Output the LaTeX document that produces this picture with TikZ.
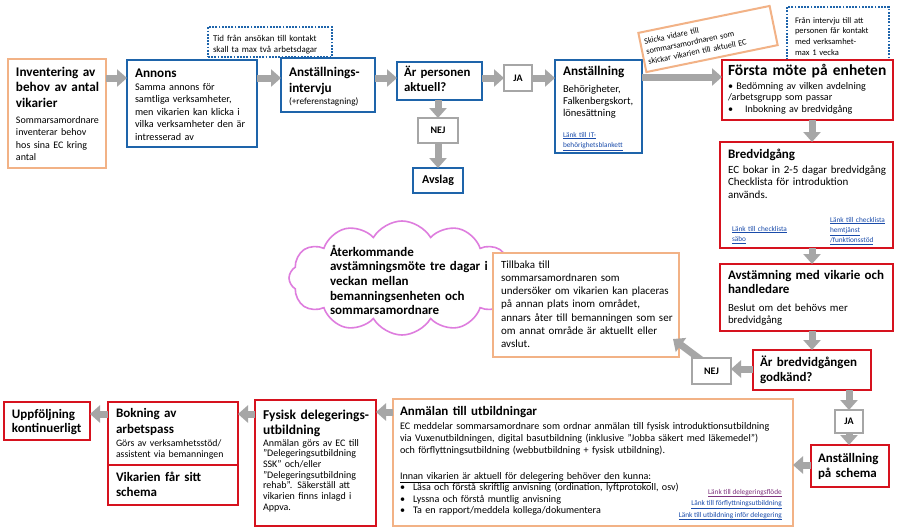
\documentclass[tikz,border=0pt]{standalone}
\usepackage{fontspec}
\setmainfont{Carlito}
\usetikzlibrary{arrows.meta,fit,shapes.symbols,calc}
\definecolor{obord}{RGB}{242,178,134}
\definecolor{bbord}{RGB}{30,100,170}
\definecolor{rbord}{RGB}{214,18,30}
\definecolor{garr}{RGB}{166,166,166}
\definecolor{lnk}{RGB}{25,75,170}
\definecolor{lnkv}{RGB}{125,50,125}
\definecolor{cloudc}{RGB}{222,125,222}
\tikzset{
  bx/.style={draw, fill=white, line width=2.6pt, inner sep=0pt, outer sep=0pt},
  obox/.style={bx, draw=obord},
  bbox/.style={bx, draw=bbord},
  rbox/.style={bx, draw=rbord},
  gbox/.style={bx, draw=garr, line width=2.4pt},
  dbox/.style={draw=bbord, line width=2pt, dash pattern=on 1.8pt off 1.4pt, fill=white, inner sep=0pt, outer sep=0pt},
  ga/.style={draw=garr, line width=7pt, -{Triangle[width=17pt,length=10pt]}},
  tx/.style={anchor=base west, inner sep=0pt, outer sep=0pt, align=left, text width=#1},
  lk/.style={tx=#1, text=lnk, font=\fontsize{7.3}{10.4}\selectfont},
  lkr/.style={anchor=base east, inner sep=0pt, align=right, text=#1, font=\fontsize{7.3}{11.5}\selectfont},
}
\begin{document}
\begin{tikzpicture}[x=1pt,y=-1pt]
\useasboundingbox (0,0) rectangle (900,528);
\fill[white] (0,0) rectangle (900,528);

% cloud
\node[cloud, cloud puffs=12, cloud puff arc=120, aspect=2, draw=cloudc, line width=1.6pt, fill=white, minimum width=226pt, minimum height=114pt, inner sep=0pt] (cld) at (402,278) {};
\node[tx=170pt, font=\fontsize{13}{14.7}\selectfont\bfseries] (cldt) at (330,256) {Återkommande\\avstämningsmöte tre dagar i\\veckan mellan\\bemanningsenheten och\\sommarsamordnare};

% top row
\node[obox, fit={(8,59) (106,168)}] (inv) {};
\node[tx=95pt, font=\fontsize{13.2}{15.5}\selectfont\bfseries] (invt) at (16,76) {Inventering av\\behov av antal\\vikarier};
\node[tx=95pt, font=\fontsize{10}{12.6}\selectfont] (invb) at (16,123) {Sommarsamordnare\\inventerar behov\\hos sina EC kring\\antal};

\node[bbox, fit={(127,60) (257,147)}] (ann) {};
\node[tx=120pt, font=\fontsize{13.2}{15}\selectfont\bfseries] (annt) at (135,77) {Annons};
\node[tx=125pt, font=\fontsize{10.2}{12.6}\selectfont] (annb) at (135,90) {Samma annons för\\samtliga verksamheter,\\men vikarien kan klicka i\\vilka verksamheter den är\\intresserad av};

\node[dbox, fit={(208,27) (332,57)}] (dot1) {};
\node[tx=125pt, font=\fontsize{8.9}{11}\selectfont] (dot1t) at (213,41) {Tid från ansökan till kontakt\\skall ta max två arbetsdagar};

\node[bbox, fit={(281,58) (375,112)}] (intv) {};
\node[tx=95pt, font=\fontsize{13.2}{16}\selectfont\bfseries] (intvt) at (289,76) {Anställnings-\\intervju};
\node[tx=95pt, font=\fontsize{9.3}{11}\selectfont] (intvb) at (289,104) {(+referenstagning)};

\node[bbox, fit={(397,62) (482,100)}] (arp) {};
\node[tx=85pt, font=\fontsize{12.8}{15}\selectfont\bfseries] (arpt) at (404,76) {Är personen\\aktuell?};

\node[gbox, fit={(418,118) (458,143)}] (nej1) {};
\node[font=\fontsize{10}{12}\selectfont\bfseries, inner sep=0pt] (nej1t) at (nej1) {NEJ};
\node[bbox, fit={(413,168) (463,193)}] (avs) {};
\node[font=\fontsize{12}{14}\selectfont\bfseries, inner sep=0pt] (avst) at (avs) {Avslag};

\node[gbox, fit={(504,65) (532,91)}] (ja1) {};
\node[font=\fontsize{10}{12}\selectfont\bfseries, inner sep=0pt] (ja1t) at (ja1) {JA};

\node[bbox, fit={(555,60) (642,153)}] (anst) {};
\node[tx=85pt, font=\fontsize{13.2}{15}\selectfont\bfseries] (anstt) at (563,75) {Anställning};
\node[tx=85pt, font=\fontsize{10.5}{12.3}\selectfont] (anstb) at (563,92) {Behörigheter,\\Falkenbergskort,\\lönesättning};
\node[lk=85pt] (anstl) at (563,137) {\underline{Länk till IT-}\\\underline{behörighetsblankett}};

\node[draw=obord, line width=2pt, fill=white, rotate=11.6, minimum width=134pt, minimum height=40pt, text width=126pt, inner xsep=4pt, inner ysep=2pt, align=left, font=\fontsize{8.3}{10.3}\selectfont] (skk) at (708,39) {Skicka vidare till\\sommarsamordnaren som\\skickar vikarien till aktuell EC};

\node[dbox, fit={(787,7) (889,62)}] (dot2) {};
\node[tx=95pt, font=\fontsize{8.5}{10.8}\selectfont] (dot2t) at (795,23) {Från intervju till att\\personen får kontakt\\med verksamhet-\\max 1 vecka};

% right column
\node[rbox, fit={(722,60) (893,120)}] (forsta) {};
\node[tx=165pt, font=\fontsize{15.5}{16}\selectfont\bfseries] (forstat) at (728,75) {Första möte på enheten};
\node[tx=165pt, font=\fontsize{10.1}{11.5}\selectfont] (forstab) at (728,89) {• Bedömning av vilken avdelning\\/arbetsgrupp som passar\\•\hspace{12pt}Inbokning av bredvidgång};

\node[rbox, fit={(720,142) (893,248)}] (bred) {};
\node[tx=165pt, font=\fontsize{13}{15}\selectfont\bfseries] (bredt) at (728,158) {Bredvidgång};
\node[tx=165pt, font=\fontsize{11}{12.5}\selectfont] (bredb) at (728,173) {EC bokar in 2-5 dagar bredvidgång\\Checklista för introduktion\\används.};
\node[lk=80pt] (bredl1) at (732,231) {\underline{Länk till checklista}\\\underline{säbo}};
\node[lk=62pt] (bredl2) at (830,222) {\underline{Länk till checklista}\\\underline{hemtjänst}\\\underline{/funktionsstöd}};

\node[rbox, fit={(720,264) (893,331)}] (avst2) {};
\node[tx=165pt, font=\fontsize{13}{14.8}\selectfont\bfseries] (avst2t) at (728,279) {Avstämning med vikarie och\\handledare};
\node[tx=165pt, font=\fontsize{10.8}{12}\selectfont] (avst2b) at (728,311) {Beslut om det behövs mer\\bredvidgång};

\node[rbox, fit={(753,350) (871,390)}] (arb) {};
\node[tx=115pt, font=\fontsize{13}{15}\selectfont\bfseries] (arbt) at (760,366) {Är bredvidgången\\godkänd?};

% Tillbaka box and NEJ
\node[obox, fit={(493,253) (679,357)}] (till) {};
\node[tx=180pt, font=\fontsize{11}{13.3}\selectfont] (tillt) at (501,268) {Tillbaka till\\sommarsamordnaren som\\undersöker om vikarien kan placeras\\på annan plats inom området,\\annars åter till bemanningen som ser\\om annat område är aktuellt eller\\avslut.};

\coordinate (nejtail) at (712,368);
\draw[ga] (nejtail) -- ($(till.south east)+(-6,-18)$);
\node[gbox, fit={(692,358) (731,384)}] (nej2) {};
\node[font=\fontsize{10}{12}\selectfont\bfseries, inner sep=0pt] (nej2t) at (nej2) {NEJ};

\node[gbox, fit={(835,410) (863,433)}] (ja2) {};
\node[font=\fontsize{10}{12}\selectfont\bfseries, inner sep=0pt] (ja2t) at (ja2) {JA};

\node[rbox, fit={(811,445) (889,487)}] (aps) {};
\node[tx=75pt, font=\fontsize{13}{15}\selectfont\bfseries] (apst) at (818,462) {Anställning\\på schema};

% bottom row
\node[obox, fit={(393,399) (793,526)}] (anm) {};
\node[tx=300pt, font=\fontsize{13}{15}\selectfont\bfseries] (anmt) at (400,415) {Anmälan till utbildningar};
\node[tx=390pt, font=\fontsize{10.1}{12}\selectfont] (anmb) at (400,429) {EC meddelar sommarsamordnare som ordnar anmälan till fysisk introduktionsutbildning\\via Vuxenutbildningen, digital basutbildning (inklusive ”Jobba säkert med läkemedel”)\\och förflyttningsutbildning (webbutbildning + fysisk utbildning).};
\node[tx=300pt, font=\fontsize{10.1}{11.6}\selectfont] (anmc) at (400,479) {\underline{Innan vikarien är aktuell för delegering behöver den kunna:}\\\makebox[13pt][l]{•}Läsa och förstå skriftlig anvisning (ordination, lyftprotokoll, osv)\\\makebox[13pt][l]{•}Lyssna och förstå muntlig anvisning\\\makebox[13pt][l]{•}Ta en rapport/meddela kollega/dokumentera};
\node[lkr=lnkv] (anml1) at (782,494) {\underline{Länk till delegeringsflöde}};
\node[lkr=lnk] (anml2) at (782,505.5) {\underline{Länk till förflyttningsutbildning}};
\node[lkr=lnk] (anml3) at (782,517) {\underline{Länk till utbildning inför delegering}};

\node[rbox, fit={(255,400) (376,526)}] (fys) {};
\node[tx=118pt, font=\fontsize{13.5}{15}\selectfont\bfseries] (fyst) at (263,419) {Fysisk delegerings-\\utbildning};
\node[tx=118pt, font=\fontsize{10}{10.7}\selectfont] (fysb) at (263,446) {Anmälan görs av EC till\\”Delegeringsutbildning\\SSK” och/eller\\”Delegeringsutbildning\\rehab”. Säkerställ att\\vikarien finns inlagd i\\Appva.};

\node[rbox, fit={(108,402) (238,465)}] (bok) {};
\node[tx=125pt, font=\fontsize{13}{16}\selectfont\bfseries] (bokt) at (116,417) {Bokning av\\arbetspass};
\node[tx=125pt, font=\fontsize{9.8}{11}\selectfont] (bokb) at (116,446) {Görs av verksamhetsstöd/\\assistent via bemanningen};
\node[rbox, fit={(108,465) (238,505)}] (vik) {};
\node[tx=125pt, font=\fontsize{13}{15}\selectfont\bfseries] (vikt) at (116,481) {Vikarien får sitt\\schema};

\node[rbox, fit={(4,402) (90,440)}] (upp) {};
\node[tx=85pt, font=\fontsize{13}{14.5}\selectfont\bfseries] (uppt) at (12,418) {Uppföljning\\kontinuerligt};

% arrows
\draw[ga] (inv.east |- 0,78) -- (ann.west |- 0,78);
\draw[ga] (ann.east |- 0,78) -- (intv.west |- 0,78);
\draw[ga] (intv.east |- 0,78) -- (arp.west |- 0,78);
\draw[ga] (arp.east |- 0,78) -- (ja1.west |- 0,78);
\draw[ga] (ja1.east |- 0,78) -- (anst.west |- 0,78);
\draw[ga] (anst.east |- 0,77) -- (forsta.west |- 0,77);
\draw[ga] (nej1.north |- arp.south) -- (nej1.north);
\draw[ga] (nej1.south) -- (avs.north);
\draw[ga] (forsta.south -| 812,0) -- (bred.north -| 812,0);
\draw[ga] (bred.south -| 812,0) -- (avst2.north -| 812,0);
\draw[ga] (avst2.south -| 812,0) -- (arb.north -| 812,0);
\draw[ga] (arb.west |- 0,369) -- (nej2.east |- 0,369);
\draw[ga] (arb.south -| 849,0) -- (ja2.north -| 849,0);
\draw[ga] (ja2.south -| 849,0) -- (aps.north -| 849,0);
\draw[ga] (aps.west |- 0,465) -- (anm.east |- 0,465);
\draw[ga] (anm.west |- 0,412) -- (fys.east |- 0,412);
\draw[ga] (fys.west |- 0,414) -- (bok.east |- 0,414);
\draw[ga] (bok.west |- 0,414) -- (upp.east |- 0,414);
\end{tikzpicture}
\end{document}
